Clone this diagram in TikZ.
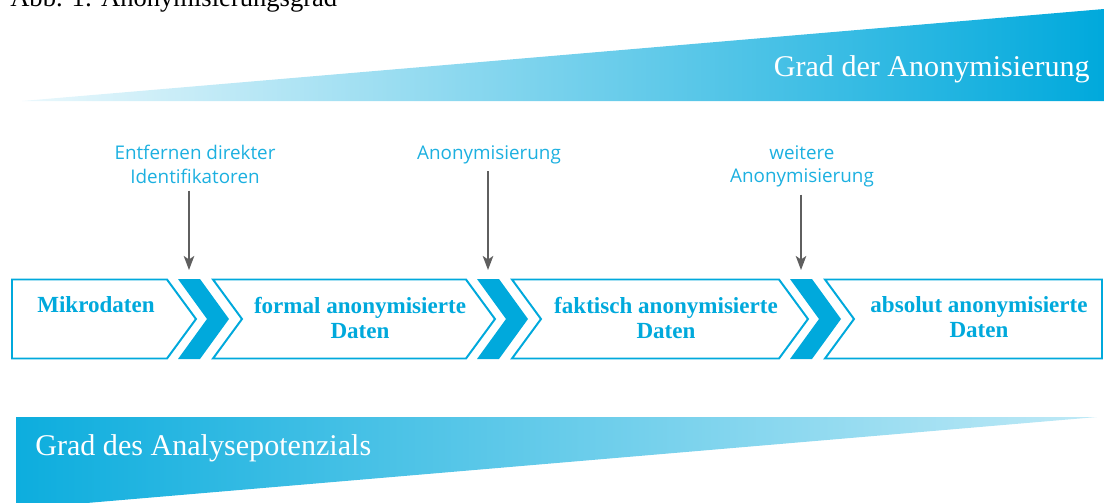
\documentclass[tikz,border=0pt]{standalone}
\usepackage{fontspec}
\setmainfont{Liberation Serif}
\newfontfamily\labelfont{Open Sans}
\usetikzlibrary{arrows.meta}
\definecolor{anoblue}{HTML}{00A9DC}
\definecolor{labelblue}{HTML}{1CB0E0}
\definecolor{pfeilgrau}{HTML}{5F5F5F}

\begin{document}
\begin{tikzpicture}[x=0.025cm, y=-0.025cm,
    stufe/.style={draw=anoblue, line width=1.4pt, fill=white},
    keil/.style={fill=anoblue},
    stufentext/.style={inner sep=0pt, align=center, text=anoblue, font=\bfseries\fontsize{16.4}{17.8}\selectfont},
    schritt/.style={inner sep=0pt, align=center, text=labelblue, font=\labelfont\fontsize{13.4}{16.4}\selectfont},
    pfeil/.style={draw=pfeilgrau, line width=1.1pt, shorten <=5pt, -{Stealth[length=10pt,width=7.5pt,inset=2.5pt]}},
    grad/.style={inner sep=0pt, text=white, font=\fontsize{21.4}{25}\selectfont}]
    \useasboundingbox (0,0) rectangle (1104,502);
    \clip (0,0) rectangle (1104,502);

    \node[inner sep=0pt, anchor=base west, font=\fontsize{18.9}{22}\selectfont] (titel) at (10,6) {Abb. 1: Anonymisierungsgrad};

    \shade[left color=anoblue!8, right color=anoblue] (22,101) -- (1104,9) -- (1104,101) -- cycle;
    \node[grad, anchor=base east] (anonym) at (1090,76) {Grad der Anonymisierung};

    \shade[left color=anoblue!95, right color=anoblue!25] (16,417) -- (1097,417) -- (16,509) -- cycle;
    \node[grad, anchor=base west] (analyse) at (35,455) {Grad des Analysepotenzials};

    \draw[stufe] (12,279.5) -- (167,279.5) -- (196,319) -- (167,358.5) -- (12,358.5) -- cycle;
    \draw[stufe] (213,279.5) -- (466,279.5) -- (495,319) -- (466,358.5) -- (213,358.5) -- (242,319) -- cycle;
    \draw[stufe] (512,279.5) -- (779,279.5) -- (808,319) -- (779,358.5) -- (512,358.5) -- (541,319) -- cycle;
    \draw[stufe] (825,279.5) -- (1102,279.5) -- (1102,358.5) -- (825,358.5) -- (854,319) -- cycle;
    \foreach \a in {178,477,790}
        \fill[keil] (\a,279) -- ++(22,0) -- ++(29,40) -- ++(-29,40) -- ++(-22,0) -- ++(29,-40) -- cycle;

    \node[stufentext] (mikro) at (96,305) {Mikrodaten};
    \node[stufentext] (formal) at (360,317.5) {formal anonymisierte\\Daten};
    \node[stufentext] (faktisch) at (666,317.5) {faktisch anonymisierte\\Daten};
    \node[stufentext] (absolut) at (979,317.5) {absolut anonymisierte\\Daten};

    \node[schritt] (entfernen) at (195,164.4) {Entfernen direkter\\Identifikatoren};
    \node[schritt] (anonymisierung) at (489,155) {Anonymisierung};
    \node[schritt] (weitere) at (802,166.6) {weitere\\Anonymisierung};

    \coordinate (ziel1) at (189,270);
    \coordinate (ziel2) at (488,270);
    \coordinate (ziel3) at (801,270);
    \draw[pfeil] (entfernen.south -| ziel1) -- (ziel1);
    \draw[pfeil] (anonymisierung.south -| ziel2) -- (ziel2);
    \draw[pfeil] (weitere.south -| ziel3) -- (ziel3);
\end{tikzpicture}
\end{document}
